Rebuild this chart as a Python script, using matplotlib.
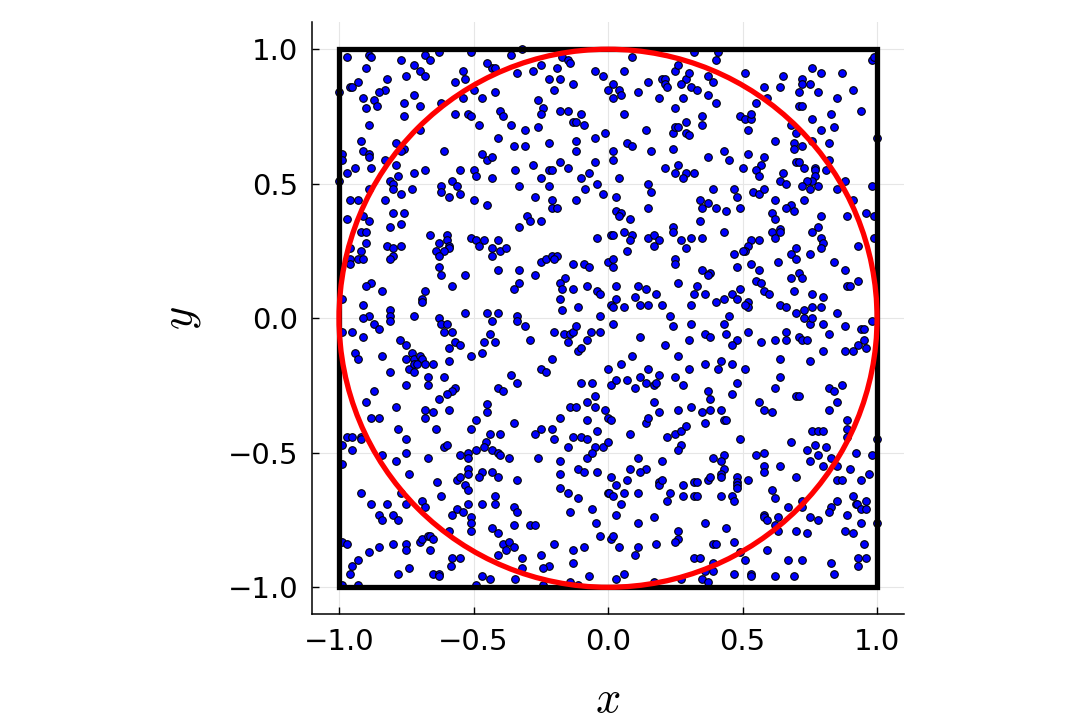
import numpy as np
import matplotlib
matplotlib.use("Agg")
import matplotlib.pyplot as plt
from matplotlib.patches import Rectangle, Circle

top_left = [
    (-0.97, 0.97), (-0.89, 0.98), (-0.88, 0.97), (-0.77, 0.96), (-0.68, 0.98), (-0.66, 0.96),
    (-0.63, 0.99), (-0.51, 0.99), (-0.36, 0.98), (-0.90, 0.93), (-0.72, 0.94), (-0.70, 0.92),
    (-0.68, 0.90), (-0.75, 0.90), (-0.82, 0.89), (-0.93, 0.88), (-0.96, 0.86), (-0.95, 0.86),
    (-0.83, 0.85), (-0.85, 0.84), (-1.00, 0.84), (-0.91, 0.82), (-0.87, 0.81), (-0.86, 0.79),
    (-0.72, 0.83), (-0.76, 0.80), (-0.70, 0.79), (-0.90, 0.78), (-0.76, 0.75), (-0.89, 0.72),
    (-0.70, 0.70), (-0.92, 0.66), (-0.79, 0.65), (-0.76, 0.63), (-0.77, 0.62), (-0.99, 0.61),
    (-0.99, 0.59), (-0.91, 0.62), (-0.89, 0.61), (-0.89, 0.60), (-0.83, 0.59), (-0.79, 0.57),
    (-0.94, 0.56), (-0.88, 0.56), (-0.97, 0.54), (-0.78, 0.53), (-0.72, 0.54), (-0.68, 0.55),
    (-0.81, 0.51), (-0.80, 0.50), (-0.80, 0.48), (-1.00, 0.51), (-0.89, 0.48), (-0.73, 0.48),
    (-0.77, 0.46), (-0.96, 0.44), (-0.93, 0.44), (-0.83, 0.44), (-0.76, 0.39), (-0.80, 0.39),
    (-0.91, 0.38), (-0.89, 0.36), (-0.97, 0.37), (-0.77, 0.35),
    (-0.57, 0.88), (-0.53, 0.89), (-0.54, 0.92), (-0.50, 0.85), (-0.47, 0.82), (-0.42, 0.84),
    (-0.43, 0.93), (-0.45, 0.95), (-0.42, 0.93), (-0.54, 0.82), (-0.62, 0.80), (-0.57, 0.76),
    (-0.52, 0.76), (-0.51, 0.75), (-0.48, 0.72), (-0.40, 0.77), (-0.39, 0.75), (-0.36, 0.72),
    (-0.41, 0.67), (-0.35, 0.64), (-0.61, 0.62), (-0.47, 0.61), (-0.45, 0.59), (-0.43, 0.60),
    (-0.55, 0.55), (-0.50, 0.55), (-0.49, 0.53), (-0.43, 0.52), (-0.345, 0.55), (-0.58, 0.51),
    (-0.62, 0.49), (-0.62, 0.47), (-0.59, 0.45), (-0.56, 0.49), (-0.55, 0.46), (-0.50, 0.44),
    (-0.45, 0.42),
]

top_mid = [
    (-0.32, 1.00), (-0.17, 0.97), (-0.15, 0.96), (-0.14, 0.95), (-0.25, 0.94), (-0.28, 0.92),
    (-0.19, 0.93), (-0.34, 0.91), (-0.22, 0.89), (-0.18, 0.89), (-0.20, 0.85), (-0.13, 0.87),
    (-0.05, 0.92), (-0.02, 0.90), (0.02, 0.87), (0.04, 0.85), (0.05, 0.83), (0.02, 0.82),
    (-0.00, 0.85), (0.09, 0.97), (0.06, 0.92), (0.11, 0.84), (0.15, 0.88), (0.20, 0.89),
    (0.21, 0.89), (0.21, 0.87), (0.22, 0.86), (0.19, 0.82), (0.25, 0.92), (0.26, 0.94),
    (0.29, 0.89), (0.30, 0.91), (0.31, 0.86), (0.27, 0.87), (0.32, 0.99), (0.28, 0.82),
    (0.25, 0.78), (-0.26, 0.81), (-0.24, 0.78), (-0.25, 0.76), (-0.18, 0.77), (-0.15, 0.77),
    (-0.10, 0.76), (-0.13, 0.73), (-0.12, 0.73), (-0.09, 0.72), (-0.31, 0.70), (-0.26, 0.71),
    (0.06, 0.76), (-0.01, 0.69), (-0.05, 0.67), (-0.12, 0.66), (-0.22, 0.65), (-0.31, 0.64),
    (-0.12, 0.62), (0.02, 0.62), (0.02, 0.59), (0.07, 0.65), (0.09, 0.64), (0.14, 0.70),
    (0.24, 0.69), (0.25, 0.71), (0.26, 0.71), (0.29, 0.73), (0.29, 0.69), (0.30, 0.68),
    (0.24, 0.63), (0.16, 0.62), (-0.28, 0.57), (-0.18, 0.58), (-0.22, 0.55), (-0.21, 0.55),
    (-0.15, 0.56), (-0.05, 0.58), (-0.07, 0.54), (-0.10, 0.52), (-0.25, 0.52), (-0.33, 0.49),
    (-0.22, 0.49), (-0.085, 0.48), (-0.04, 0.50), (0.04, 0.52), (-0.02, 0.46), (-0.12, 0.44),
    (-0.21, 0.44), (-0.27, 0.45), (0.03, 0.45), (0.15, 0.50), (0.16, 0.47), (0.21, 0.56),
    (0.26, 0.57), (0.25, 0.54), (0.29, 0.54), (0.28, 0.52), (0.32, 0.54), (-0.21, 0.41),
    (-0.19, 0.41), (-0.30, 0.38), (-0.29, 0.36), (-0.25, 0.36), (0.03, 0.40), (0.05, 0.39),
    (0.04, 0.38), (0.08, 0.37), (0.15, 0.41),
]

top_right = [
    (0.41, 0.99), (0.40, 0.96), (0.37, 0.90), (0.39, 0.88), (0.33, 0.85), (0.37, 0.83),
    (0.40, 0.80), (0.51, 0.91), (0.65, 0.90), (0.58, 0.86), (0.64, 0.86), (0.59, 0.82),
    (0.55, 0.80), (0.72, 0.89), (0.72, 0.87), (0.75, 0.87), (0.76, 0.93), (0.79, 0.91),
    (0.71, 0.84), (0.78, 0.84), (0.87, 0.91), (0.91, 0.85), (0.85, 0.82), (0.98, 0.96),
    (0.99, 0.97), (0.71, 0.79), (0.72, 0.79), (0.83, 0.76), (0.94, 0.77), (0.35, 0.75),
    (0.35, 0.72), (0.49, 0.75), (0.51, 0.74), (0.53, 0.74), (0.53, 0.76), (0.52, 0.70),
    (0.68, 0.72), (0.70, 0.69), (0.76, 0.74), (0.79, 0.70), (0.84, 0.71), (0.62, 0.66),
    (0.69, 0.65), (0.72, 0.64), (0.69, 0.63), (0.76, 0.66), (0.82, 0.65), (0.43, 0.62),
    (0.37, 0.60), (0.45, 0.59), (0.52, 0.61), (0.58, 0.60), (0.57, 0.57), (0.50, 0.56),
    (0.55, 0.55), (0.56, 0.53), (0.70, 0.58), (0.71, 0.58), (0.73, 0.56), (0.82, 0.59),
    (0.77, 0.56), (0.77, 0.55), (0.81, 0.55), (0.77, 0.53), (0.76, 0.51), (0.74, 0.51),
    (0.65, 0.54), (0.64, 0.51), (0.66, 0.50), (0.72, 0.49), (0.75, 0.48), (0.78, 0.49),
    (0.85, 0.48), (0.88, 0.51), (0.98, 0.49), (0.39, 0.48), (0.47, 0.48), (0.54, 0.47),
    (0.56, 0.46), (0.58, 0.48), (0.48, 0.45), (0.34, 0.44), (0.37, 0.43), (0.35, 0.41),
    (0.40, 0.41), (0.44, 0.40), (0.49, 0.41), (0.62, 0.44), (0.68, 0.42), (0.66, 0.41),
    (0.69, 0.40), (0.73, 0.44), (0.61, 0.39), (0.62, 0.37), (0.79, 0.38), (0.34, 0.36),
    (0.91, 0.44), (0.89, 0.38), (0.96, 0.39), (0.99, 0.38), (1.00, 0.67),
]

mid_left = [
    (-0.92, 0.32), (-0.90, 0.32), (-0.81, 0.34), (-0.90, 0.28), (-0.92, 0.25), (-0.96, 0.26),
    (-0.96, 0.22), (-0.93, 0.22), (-0.91, 0.22), (-0.96, 0.20), (-0.82, 0.27), (-0.80, 0.26),
    (-0.77, 0.27), (-0.80, 0.23), (-0.81, 0.22), (-0.66, 0.31), (-0.60, 0.31), (-0.63, 0.28),
    (-0.60, 0.29), (-0.59, 0.27), (-0.59, 0.26), (-0.61, 0.25), (-0.64, 0.25), (-0.63, 0.23),
    (-0.51, 0.30), (-0.49, 0.29), (-0.46, 0.29), (-0.48, 0.27), (-0.41, 0.29), (-0.43, 0.26),
    (-0.40, 0.25), (-0.38, 0.26), (-0.43, 0.23), (-0.41, 0.18), (-0.63, 0.19), (-0.62, 0.16),
    (-0.53, 0.16), (-0.58, 0.12), (-0.35, 0.11), (-0.88, 0.13), (-0.90, 0.12), (-0.84, 0.10),
    (-0.68, 0.10), (-0.69, 0.07), (-0.69, 0.06), (-0.99, 0.07), (-0.91, 0.05), (-0.81, 0.03),
    (-0.81, 0.01), (-0.81, -0.01), (-0.89, 0.01), (-0.91, -0.00), (-0.72, 0.01), (-0.53, 0.02),
    (-0.45, 0.02), (-0.41, 0.02), (-0.43, -0.01), (-0.34, 0.01), (-0.63, -0.00), (-0.62, -0.02),
    (-0.60, -0.02), (-0.61, -0.05), (-0.58, -0.05), (-0.87, -0.02), (-0.85, -0.04), (-0.95, -0.05),
    (-0.91, -0.07), (-0.99, -0.05), (-0.775, -0.08), (-0.75, -0.10), (-0.57, -0.09), (-0.55, -0.10),
    (-0.59, -0.11), (-0.44, -0.06), (-0.46, -0.09), (-0.42, -0.09), (-0.94, -0.13), (-0.93, -0.15),
    (-0.84, -0.14), (-0.73, -0.13), (-0.75, -0.15), (-0.72, -0.15), (-0.70, -0.14), (-0.69, -0.15),
    (-0.74, -0.19), (-0.72, -0.17), (-0.71, -0.17), (-0.68, -0.17), (-0.72, -0.20), (-0.65, -0.17),
    (-0.59, -0.16), (-0.51, -0.14), (-0.47, -0.13), (-0.81, -0.20), (-0.75, -0.25), (-0.67, -0.22),
    (-0.67, -0.25), (-0.61, -0.22), (-0.57, -0.26), (-0.58, -0.27), (-0.60, -0.28), (-0.63, -0.30),
    (-0.87, -0.27), (-0.90, -0.31), (-0.36, -0.21), (-0.34, -0.24), (-0.41, -0.26), (-0.39, -0.27),
    (-0.45, -0.32),
]

centre = [
    (-0.33, 0.34), (-0.04, 0.30), (0.01, 0.31), (0.02, 0.31), (0.06, 0.32), (0.09, 0.31),
    (0.08, 0.29), (0.15, 0.30), (0.17, 0.31), (0.19, 0.29), (0.24, 0.34), (0.24, 0.32),
    (0.27, 0.29), (0.31, 0.30), (0.29, 0.26), (0.17, 0.27), (0.07, 0.25), (-0.25, 0.21),
    (-0.23, 0.22), (-0.21, 0.23), (-0.19, 0.23), (-0.20, 0.22), (-0.00, 0.21), (0.02, 0.22),
    (0.02, 0.19), (-0.09, 0.20), (-0.07, 0.19), (-0.13, 0.20), (0.25, 0.22), (0.25, 0.20),
    (-0.33, 0.18), (-0.27, 0.16), (-0.16, 0.15), (-0.33, 0.13), (-0.18, 0.13), (-0.17, 0.11),
    (-0.13, 0.11), (-0.08, 0.12), (-0.04, 0.10), (-0.03, 0.09), (0.03, 0.12), (0.11, 0.12),
    (0.14, 0.11), (0.26, 0.13), (0.18, 0.09), (0.10, 0.08), (0.03, 0.07), (0.01, 0.05),
    (0.02, 0.04), (0.06, 0.04), (0.12, 0.05), (0.15, 0.05), (0.20, 0.05), (-0.18, 0.07),
    (-0.17, 0.03), (-0.11, 0.04), (-0.03, 0.01), (0.23, 0.01), (0.32, 0.09), (0.31, 0.05),
    (-0.34, -0.01), (-0.31, -0.03), (0.02, -0.02), (0.24, -0.03), (0.31, -0.02), (-0.29, -0.08),
    (-0.20, -0.05), (-0.165, -0.06), (-0.14, -0.06), (-0.13, -0.05), (-0.12, -0.03), (-0.15, -0.09),
    (-0.08, -0.08), (-0.065, -0.05), (-0.03, -0.05), (0.12, -0.07), (0.21, -0.10), (0.30, -0.08),
    (-0.11, -0.12), (-0.10, -0.11), (-0.21, -0.15), (0.09, -0.14), (0.05, -0.17), (-0.00, -0.19),
    (-0.25, -0.19), (-0.23, -0.20), (0.26, -0.14), (0.30, -0.19), (0.15, -0.19), (-0.10, -0.24),
    (-0.06, -0.24), (0.01, -0.25), (0.03, -0.23), (0.07, -0.23), (0.10, -0.26), (0.12, -0.22),
    (0.14, -0.24), (0.17, -0.25), (0.18, -0.24), (0.19, -0.21), (0.25, -0.22), (0.28, -0.25),
    (-0.05, -0.29), (-0.08, -0.31), (0.17, -0.31),
]

mid_right = [
    (0.35, 0.30), (0.43, 0.32), (0.61, 0.32), (0.64, 0.33), (0.64, 0.32), (0.62, 0.30),
    (0.76, 0.32), (0.78, 0.34), (0.79, 0.30), (0.80, 0.28), (0.79, 0.26), (0.53, 0.29),
    (0.56, 0.29), (0.52, 0.27), (0.51, 0.25), (0.50, 0.25), (0.47, 0.24), (0.70, 0.26),
    (0.68, 0.24), (0.70, 0.22), (0.75, 0.24), (0.63, 0.21), (0.53, 0.20), (0.48, 0.19),
    (0.56, 0.18), (0.35, 0.18), (0.38, 0.17), (0.37, 0.16), (0.33, 0.12), (0.36, 0.09),
    (0.71, 0.17), (0.72, 0.15), (0.68, 0.15), (0.55, 0.14), (0.57, 0.13), (0.84, 0.21),
    (0.88, 0.18), (0.93, 0.27), (0.99, 0.30), (0.89, 0.12), (0.90, 0.12), (0.93, 0.14),
    (0.49, 0.11), (0.58, 0.10), (0.60, 0.09), (0.69, 0.10), (0.76, 0.09), (0.80, 0.08),
    (0.46, 0.09), (0.48, 0.07), (0.43, 0.07), (0.40, 0.06), (0.52, 0.06), (0.52, 0.04),
    (0.51, 0.05), (0.64, 0.05), (0.66, 0.04), (0.70, 0.02), (0.73, 0.03), (0.76, 0.04),
    (0.79, 0.04), (0.85, 0.02), (0.73, -0.00), (0.75, -0.02), (0.76, 0.00), (0.80, -0.02),
    (0.45, 0.01), (0.43, -0.02), (0.88, -0.03), (0.94, -0.04), (0.95, -0.04), (0.98, -0.01),
    (0.36, -0.06), (0.38, -0.07), (0.44, -0.06), (0.52, -0.05), (0.66, -0.05), (0.82, -0.06),
    (0.48, -0.08), (0.46, -0.10), (0.57, -0.09), (0.62, -0.08), (0.66, -0.08), (0.71, -0.07),
    (0.72, -0.08), (0.74, -0.08), (0.80, -0.12), (0.88, -0.12), (0.91, -0.12), (0.93, -0.10),
    (0.95, -0.08), (0.96, -0.11), (0.64, -0.15), (0.75, -0.16), (0.36, -0.17), (0.42, -0.16),
    (0.46, -0.17), (0.41, -0.19), (0.51, -0.19), (0.64, -0.22), (0.37, -0.27), (0.38, -0.30),
    (0.46, -0.28), (0.48, -0.24), (0.62, -0.26), (0.70, -0.29), (0.71, -0.29), (0.82, -0.26),
    (0.84, -0.27), (0.87, -0.25), (0.85, -0.31), (0.56, -0.31),
]

bottom_left = [
    (-0.79, -0.33), (-0.68, -0.34), (-0.65, -0.35), (-0.59, -0.34), (-0.68, -0.37), (-0.88, -0.37),
    (-0.85, -0.37), (-0.78, -0.41), (-0.64, -0.41), (-0.51, -0.41), (-0.49, -0.38), (-0.45, -0.35),
    (-0.35, -0.39), (-0.97, -0.44), (-0.95, -0.44), (-0.92, -0.44), (-0.92, -0.45), (-0.99, -0.47),
    (-0.95, -0.49), (-0.75, -0.45), (-0.75, -0.50), (-0.79, -0.53), (-0.84, -0.51), (-0.67, -0.52),
    (-0.61, -0.48), (-0.60, -0.47), (-0.44, -0.43), (-0.40, -0.43), (-0.455, -0.46), (-0.49, -0.49),
    (-0.46, -0.48), (-0.43, -0.49), (-0.41, -0.50), (-0.40, -0.51), (-0.37, -0.52), (-0.55, -0.51),
    (-0.52, -0.50), (-0.52, -0.52), (-0.99, -0.54), (-0.74, -0.58), (-0.56, -0.60), (-0.55, -0.59),
    (-0.52, -0.56), (-0.52, -0.58), (-0.47, -0.57), (-0.48, -0.59), (-0.43, -0.57), (-0.41, -0.59),
    (-0.34, -0.60), (-0.635, -0.61), (-0.53, -0.62), (-0.52, -0.64), (-0.92, -0.65), (-0.88, -0.69),
    (-0.82, -0.69), (-0.77, -0.65), (-0.75, -0.69), (-0.69, -0.68), (-0.68, -0.70), (-0.62, -0.66),
    (-0.52, -0.69), (-0.47, -0.69), (-0.42, -0.66), (-0.42, -0.69), (-0.35, -0.70), (-0.34, -0.72),
    (-0.85, -0.73), (-0.84, -0.75), (-0.80, -0.73), (-0.78, -0.75), (-0.58, -0.73), (-0.56, -0.71),
    (-0.54, -0.72), (-0.51, -0.74), (-0.51, -0.76), (-0.51, -0.79), (-0.59, -0.79), (-0.43, -0.78),
    (-0.41, -0.80), (-0.35, -0.77), (-0.99, -0.83), (-0.97, -0.84), (-0.89, -0.87), (-0.85, -0.85),
    (-0.80, -0.84), (-0.75, -0.84), (-0.75, -0.86), (-0.70, -0.83), (-0.69, -0.82), (-0.67, -0.81),
    (-0.66, -0.81), (-0.65, -0.82), (-0.66, -0.86), (-0.39, -0.84), (-0.38, -0.86), (-0.37, -0.83),
    (-0.35, -0.85), (-0.41, -0.88), (-0.58, -0.89), (-0.585, -0.92), (-0.55, -0.89), (-0.93, -0.90),
    (-0.95, -0.92), (-0.96, -0.95), (-0.93, -0.99), (-0.99, -0.99), (-0.74, -0.93), (-0.78, -0.95),
    (-0.65, -0.95), (-0.63, -0.95), (-0.63, -0.96), (-0.47, -0.96), (-0.44, -0.97), (-0.49, -0.99),
    (-0.345, -0.97),
]

bottom_mid = [
    (-0.14, -0.33), (-0.12, -0.33), (-0.05, -0.33), (-0.01, -0.34), (-0.00, -0.37), (0.01, -0.38),
    (-0.18, -0.37), (-0.08, -0.38), (0.14, -0.39), (0.15, -0.37), (0.19, -0.35), (0.26, -0.34),
    (0.31, -0.33), (-0.25, -0.41), (-0.21, -0.41), (-0.27, -0.43), (-0.20, -0.45), (-0.13, -0.44),
    (-0.10, -0.44), (-0.08, -0.45), (-0.04, -0.42), (-0.15, -0.48), (-0.05, -0.48), (-0.02, -0.48),
    (0.00, -0.46), (0.08, -0.43), (0.22, -0.44), (0.25, -0.43), (0.27, -0.42), (0.29, -0.40),
    (0.27, -0.47), (0.26, -0.49), (-0.26, -0.52), (-0.18, -0.53), (-0.08, -0.52), (-0.06, -0.50),
    (0.11, -0.52), (0.20, -0.53), (0.08, -0.56), (0.14, -0.56), (0.12, -0.57), (-0.18, -0.58),
    (-0.11, -0.56), (-0.09, -0.57), (-0.04, -0.57), (0.01, -0.59), (0.03, -0.62), (0.07, -0.60),
    (0.19, -0.61), (0.19, -0.62), (0.20, -0.60), (0.28, -0.62), (0.32, -0.61), (-0.18, -0.63),
    (-0.15, -0.65), (-0.11, -0.67), (-0.00, -0.65), (0.005, -0.65), (0.02, -0.66), (0.06, -0.65),
    (0.11, -0.65), (0.23, -0.65), (0.28, -0.66), (0.22, -0.68), (0.32, -0.66), (0.05, -0.69),
    (-0.14, -0.72), (-0.06, -0.71), (0.03, -0.73), (0.17, -0.74), (-0.29, -0.77), (-0.27, -0.77),
    (-0.045, -0.76), (0.11, -0.76), (0.26, -0.79), (0.26, -0.82), (0.25, -0.83), (-0.03, -0.81),
    (0.01, -0.82), (0.02, -0.81), (0.04, -0.85), (0.11, -0.85), (0.10, -0.88), (0.18, -0.84),
    (-0.20, -0.84), (-0.13, -0.86), (-0.09, -0.85), (-0.25, -0.88), (-0.32, -0.89), (-0.22, -0.92),
    (-0.24, -0.93), (-0.13, -0.91), (-0.32, -0.93), (-0.07, -0.96), (0.06, -0.95), (0.03, -0.97),
    (0.32, -0.89), (0.27, -0.97), (-0.14, -0.98), (-0.11, -0.99), (0.17, -0.98), (-0.24, -0.99),
]

bottom_right = [
    (0.35, -0.35), (0.38, -0.34), (0.42, -0.34), (0.36, -0.39), (0.43, -0.38), (0.44, -0.38),
    (0.58, -0.34), (0.61, -0.35), (0.82, -0.34), (0.49, -0.45), (0.68, -0.46), (0.76, -0.42),
    (0.78, -0.42), (0.80, -0.42), (0.89, -0.38), (0.89, -0.41), (0.89, -0.44), (0.39, -0.52),
    (0.43, -0.51), (0.42, -0.53), (0.43, -0.56), (0.42, -0.58), (0.42, -0.59), (0.33, -0.61),
    (0.37, -0.60), (0.38, -0.59), (0.48, -0.59), (0.48, -0.61), (0.48, -0.62), (0.48, -0.63),
    (0.52, -0.60), (0.55, -0.51), (0.58, -0.50), (0.58, -0.55), (0.58, -0.57), (0.64, -0.55),
    (0.70, -0.59), (0.74, -0.49), (0.75, -0.53), (0.77, -0.47), (0.78, -0.51), (0.81, -0.48),
    (0.83, -0.52), (0.80, -0.55), (0.85, -0.55), (0.90, -0.56), (0.92, -0.50), (0.98, -0.51),
    (0.85, -0.60), (0.87, -0.60), (0.94, -0.60), (0.97, -0.58), (0.33, -0.66), (0.42, -0.66),
    (0.46, -0.66), (0.47, -0.68), (0.61, -0.64), (0.62, -0.67), (0.67, -0.70), (0.72, -0.68),
    (0.72, -0.70), (0.91, -0.66), (0.85, -0.68), (0.83, -0.70), (0.82, -0.72), (0.92, -0.69),
    (0.925, -0.69), (0.94, -0.71), (0.96, -0.71), (0.96, -0.68), (0.89, -0.73), (0.58, -0.73),
    (0.58, -0.74), (0.59, -0.75), (0.63, -0.74), (0.62, -0.77), (0.63, -0.79), (0.75, -0.74),
    (0.78, -0.75), (0.70, -0.79), (0.74, -0.80), (0.36, -0.76), (0.44, -0.78), (0.88, -0.79),
    (0.91, -0.80), (0.94, -0.76), (0.39, -0.84), (0.40, -0.84), (0.47, -0.83), (0.49, -0.87),
    (0.95, -0.84), (0.59, -0.86), (0.34, -0.89), (0.39, -0.91), (0.39, -0.94), (0.36, -0.94),
    (0.35, -0.97), (0.37, -0.98), (0.51, -0.90), (0.47, -0.95), (0.53, -0.95), (0.53, -0.96),
    (0.62, -0.96), (0.67, -0.90), (0.69, -0.96), (0.72, -0.90), (0.83, -0.91), (0.84, -0.95),
    (0.93, -0.89), (0.93, -0.92), (0.96, -0.89), (1.00, -0.45), (1.00, -0.76),
]

blocks = [top_left, top_mid, top_right, mid_left, centre, mid_right,
          bottom_left, bottom_mid, bottom_right]
pts = np.array([p for b in blocks for p in b])

plt.rcParams['mathtext.fontset'] = 'cm'
plt.rcParams['font.family'] = 'DejaVu Sans'

fig = plt.figure(figsize=(10.8, 7.2), dpi=100)
ax = fig.add_axes([0.288, 0.147, 0.55, 0.822])

ax.scatter(pts[:, 0], pts[:, 1], s=30, c='#0000ff', edgecolors='black',
           linewidths=0.8, zorder=2)
ax.add_patch(Rectangle((-1, -1), 2, 2, fill=False, ec='black', lw=3.8, zorder=3))
ax.add_patch(Circle((0, 0), 1, fill=False, ec='#ff0000', lw=3.8, zorder=4))

ax.set_xlim(-1.1, 1.1)
ax.set_ylim(-1.1, 1.1)
ax.set_aspect('equal')
ticks = [-1.0, -0.5, 0.0, 0.5, 1.0]
ax.set_xticks(ticks)
ax.set_yticks(ticks)
ax.grid(True, color='#e6e6e6', lw=0.8, zorder=0)
ax.set_axisbelow(True)
for s in ['top', 'right']:
    ax.spines[s].set_visible(False)
for s in ['left', 'bottom']:
    ax.spines[s].set_linewidth(1.1)
ax.tick_params(direction='in', length=5, width=1, labelsize=21, pad=10)
ax.set_xlabel(r'$x$', fontsize=32, labelpad=16)
ax.set_ylabel(r'$y$', fontsize=32, labelpad=18)

plt.savefig('out.png', dpi=100)
